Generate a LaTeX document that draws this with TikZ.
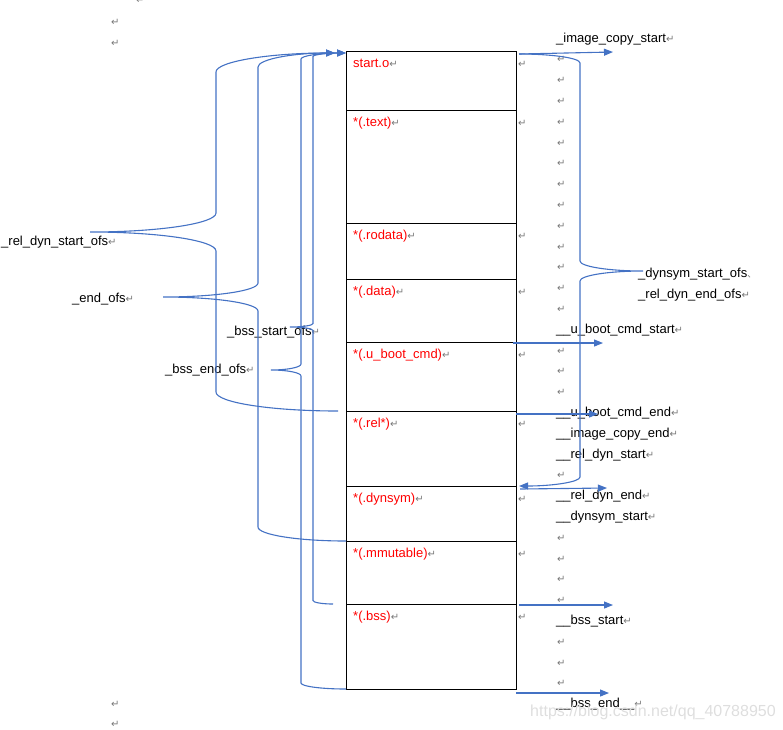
\documentclass[tikz,border=0pt]{standalone}
\usepackage{fontspec}
\setmainfont{Liberation Sans}
\newfontfamily\symf{DejaVu Sans}
\newfontfamily\cjkf{Noto Sans CJK SC}
\usetikzlibrary{arrows.meta,calc}
\definecolor{wblue}{RGB}{68,114,196}
\definecolor{retgray}{RGB}{120,120,120}
\definecolor{secred}{RGB}{255,0,0}
\definecolor{wmgray}{RGB}{222,222,222}
\newcommand\rt{{\symf\fontsize{10}{10}\selectfont\color{retgray}\symbol{"21B5}}}
\newcommand\leftbrc[5]{% #1 bottom end, #2 tip, #3 top end, #4 brace x offset from tip, #5 corner radius
\draw[arr] let \p1=(#1), \p2=(#2), \p3=(#3) in
 (\p1) .. controls +({-0.55*(\x1-\x2-#4pt)},0pt) and +(0pt,{-0.55*#5pt}) .. ({\x2+#4pt},{\y1+#5pt})
 -- ({\x2+#4pt},{\y2-#5pt}) .. controls +(0pt,{0.55*#5pt}) and +({0.55*#4pt},0pt) .. (\p2)
 .. controls +({0.55*#4pt},0pt) and +(0pt,{-0.55*#5pt}) .. ({\x2+#4pt},{\y2+#5pt})
 -- ({\x2+#4pt},{\y3-#5pt}) .. controls +(0pt,{0.55*#5pt}) and +({-0.55*(\x3-\x2-#4pt)},0pt) .. (\p3);}
\begin{document}
\begin{tikzpicture}[x=1pt,y=-1pt,
  lab/.style={anchor=base west, inner sep=0pt, font=\fontsize{13}{15}\selectfont, text=black},
  seclab/.style={anchor=base west, inner sep=0pt, font=\fontsize{13}{15}\selectfont, text=secred},
  sec/.style={draw=black, line width=1pt, minimum width=170pt, minimum height=#1, anchor=north west, inner sep=0pt, outer sep=0pt},
  retm/.style={anchor=base west, inner sep=0pt},
  conn/.style={draw=wblue, line width=1.1pt},
  arr/.style={conn, -{Triangle[length=9pt,width=7pt]}},
]
\useasboundingbox (0,0) rectangle (783,729);

% memory layout box
\node[sec=59pt]  (s1) at (346,51)  {};
\node[sec=113pt] (s2) at (346,110) {};
\node[sec=56pt]  (s3) at (346,223) {};
\node[sec=63pt]  (s4) at (346,279) {};
\node[sec=69pt]  (s5) at (346,342) {};
\node[sec=75pt]  (s6) at (346,411) {};
\node[sec=55pt]  (s7) at (346,486) {};
\node[sec=63pt]  (s8) at (346,541) {};
\node[sec=85pt]  (s9) at (346,604) {};

\node[seclab] (l1) at (353,67)  {start.o\rt};
\node[seclab] (l2) at (353,126) {*(.text)\rt};
\node[seclab] (l3) at (353,239) {*(.rodata)\rt};
\node[seclab] (l4) at (353,295) {*(.data)\rt};
\node[seclab] (l5) at (353,358) {*(.u\_boot\_cmd)\rt};
\node[seclab] (l6) at (353,427) {*(.rel*)\rt};
\node[seclab] (l7) at (353,502) {*(.dynsym)\rt};
\node[seclab] (l8) at (353,557) {*(.mmutable)\rt};
\node[seclab] (l9) at (353,620) {*(.bss)\rt};

\foreach \yy [count=\i] in {67,126,239,295,358,427,502,557,620}
  \node[retm] (br\i) at (518,\yy) {\rt};

% paragraph marks column on the right
\foreach \k in {1,...,13,15,16,17,21,24,25,26,27,29,30,31}
  \node[retm] (rc\k) at (557,{42+20.8*\k}) {\rt};

% stray paragraph marks on the left
\node[retm] (m0) at (136,3) {\rt};
\node[retm] (m1) at (111,25) {\rt};
\node[retm] (m2) at (111,46) {\rt};
\node[retm] (m3) at (111,707) {\rt};
\node[retm] (m4) at (111,727) {\rt};

% right labels
\node[lab] (ics)  at (556,42)    {\_image\_copy\_start\rt};
\node[lab] (ubcs) at (556,333.2) {\_\_u\_boot\_cmd\_start\rt};
\node[lab] (ubce) at (556,416.4) {\_\_u\_boot\_cmd\_end\rt};
\node[lab] (ice)  at (556,437.2) {\_\_image\_copy\_end\rt};
\node[lab] (rds)  at (556,458)   {\_\_rel\_dyn\_start\rt};
\node[lab] (rde)  at (556,499.6) {\_\_rel\_dyn\_end\rt};
\node[lab] (dss)  at (556,520.4) {\_\_dynsym\_start\rt};
\node[lab] (bsss) at (556,624.4) {\_\_bss\_start\rt};
\node[lab] (bsse) at (556,707.6) {\_\_bss\_end\_\_\rt};
\node[lab] (dso)  at (638,277)   {\_dynsym\_start\_ofs{\cjkf\fontsize{9}{9}\selectfont\color{retgray}、}};
\node[lab] (rdeo) at (638,298)   {\_rel\_dyn\_end\_ofs\rt};

% left labels
\node[lab] (rdso) at (1,245)   {\_rel\_dyn\_start\_ofs\rt};
\node[lab] (eo)   at (72,302)  {\_end\_ofs\rt};
\node[lab] (bso)  at (227,335.5) {\_bss\_start\_ofs\rt};
\node[lab] (beo)  at (165,373) {\_bss\_end\_ofs\rt};

% right arrows
\coordinate (a1s) at (519,54);  \coordinate (a1e) at (613,52);
\coordinate (a2s) at (513,343); \coordinate (a2e) at (603,343);
\coordinate (a3s) at (516,414); \coordinate (a3e) at (598,414);
\coordinate (a4s) at (520,489); \coordinate (a4e) at (607,488);
\coordinate (a5s) at (519,605); \coordinate (a5e) at (613,605);
\coordinate (a6s) at (516,693); \coordinate (a6e) at (609,693);
\draw[arr] (a1s) -- (a1e);
\draw[arr] (a2s) -- (a2e);
\draw[arr] (a3s) -- (a3e);
\draw[arr] (a4s) -- (a4e);
\draw[arr] (a5s) -- (a5e);
\draw[arr] (a6s) -- (a6e);

% left braces
\coordinate (t1) at (335,53);  \coordinate (t2) at (335,53);
\coordinate (t3) at (346,53);  \coordinate (t4) at (346,53);
\coordinate (p1) at (90,232);  \coordinate (p2) at (163,297);
\coordinate (p3) at (290,327); \coordinate (p4) at (271,370);
\coordinate (b1) at (338,411); \coordinate (b3) at (333,604);
\leftbrc{b1}{p1}{t1}{126}{19}
\leftbrc{s8.north west}{p2}{t2}{95}{14}
\leftbrc{b3}{p3}{t3}{23}{3.5}
\leftbrc{s9.south west}{p4}{t4}{30}{6}

% right brace
\coordinate (rbT) at (519,54); \coordinate (rbP) at (643,271); \coordinate (rbB) at (519,486);
\draw[arr] let \p1=(rbT), \p2=(rbP), \p3=(rbB) in
 (\p1) .. controls +({0.55*(\x2-63pt-\x1)},0pt) and +(0pt,{0.55*9pt}) .. ({\x2-63pt},{\y1-9pt})
 -- ({\x2-63pt},{\y2+10pt}) .. controls +(0pt,{-0.55*10pt}) and +({-0.55*63pt},0pt) .. (\p2)
 .. controls +({-0.55*63pt},0pt) and +(0pt,{0.55*10pt}) .. ({\x2-63pt},{\y2-10pt})
 -- ({\x2-63pt},{\y3+9pt}) .. controls +(0pt,{-0.55*9pt}) and +({0.55*(\x2-63pt-\x3)},0pt) .. (\p3);

% watermark
\node[anchor=base west, inner sep=0pt, text=wmgray, font=\fontsize{16}{16}\selectfont] (wm) at (530,716) {https://blog.csdn.net/qq\_40788950};
\end{tikzpicture}
\end{document}
